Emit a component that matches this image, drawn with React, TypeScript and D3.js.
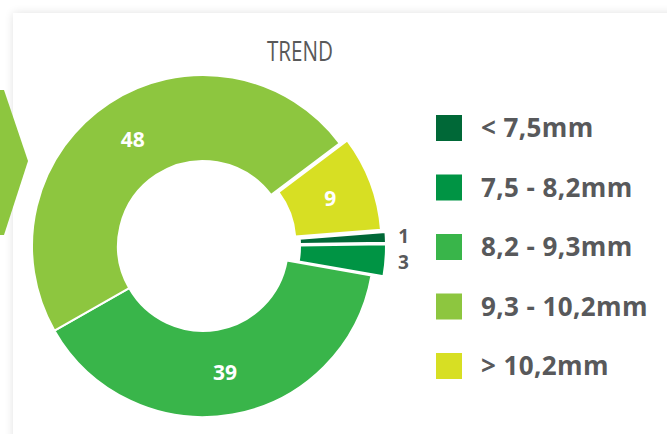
import React from "react";
import * as d3 from "d3";

const categories = ["< 7,5mm", "7,5 - 8,2mm", "8,2 - 9,3mm", "9,3 - 10,2mm", "> 10,2mm"];
const values = [1, 3, 39, 48, 9];
const colors = ["#006837", "#009444", "#39b54a", "#8dc63f", "#d7df23"];
const explode = [12, 12, 0, 0, 8];
const title = "TREND";

const W = 667;
const H = 434;
const cx = 203;
const cy = 246;
const outerR = 171;
const innerR = 85;

export default function App() {
  const pie = d3
    .pie<number>()
    .sort(null)
    .value((d) => d)
    .startAngle((85.5 * Math.PI) / 180)
    .endAngle((85.5 * Math.PI) / 180 + 2 * Math.PI);
  const arcs = pie(values);
  const arc = d3.arc<d3.PieArcDatum<number>>().innerRadius(innerR).outerRadius(outerR);

  const legendY = d3.scalePoint<number>().domain(d3.range(categories.length)).range([128, 366]);

  return (
    <svg width={W} height={H} style={{ position: "absolute", left: 0, top: 0, background: "#ffffff" }}>
      <defs>
        <filter id="shadow" x="-10%" y="-10%" width="130%" height="130%">
          <feGaussianBlur in="SourceAlpha" stdDeviation="5" />
          <feComponentTransfer>
            <feFuncA type="linear" slope="0.12" />
          </feComponentTransfer>
          <feMerge>
            <feMergeNode />
            <feMergeNode in="SourceGraphic" />
          </feMerge>
        </filter>
      </defs>
      <rect x={13} y={13} width={720} height={480} fill="#ffffff" filter="url(#shadow)" />
      <polygon points="0,90 4,90 28,161 4,235 0,235" fill="#8dc63f" />
      <text
        x={300}
        y={61}
        textAnchor="middle"
        fontFamily="'Open Sans', sans-serif"
        fontSize={27}
        fill="#595959"
        textLength={66}
        lengthAdjust="spacingAndGlyphs"
      >
        {title}
      </text>
      <g transform={`translate(${cx},${cy})`}>
        {arcs.map((a, i) => {
          const mid = (a.startAngle + a.endAngle) / 2;
          const ox = Math.sin(mid) * explode[i];
          const oy = -Math.cos(mid) * explode[i];
          return (
            <path
              key={i}
              d={arc(a) || ""}
              transform={`translate(${ox},${oy})`}
              fill={colors[i]}
              stroke="#ffffff"
              strokeWidth={2}
            />
          );
        })}
        {arcs.map((a, i) => {
          const mid = (a.startAngle + a.endAngle) / 2;
          const ox = Math.sin(mid) * explode[i];
          const oy = -Math.cos(mid) * explode[i];
          const inside = a.value >= 5;
          let x: number, y: number;
          if (inside) {
            const c = arc.centroid(a);
            x = c[0] + ox;
            y = c[1] + oy;
          } else {
            const r = outerR + 18;
            x = Math.sin(mid) * r + ox;
            y = -Math.cos(mid) * r + oy;
          }
          return (
            <text
              key={"l" + i}
              x={x}
              y={y}
              dy="0.36em"
              textAnchor="middle"
              fontFamily="'Open Sans', sans-serif"
              fontWeight="bold"
              fontSize={inside ? 21 : 19}
              fill={inside ? "#ffffff" : "#58595b"}
            >
              {a.value}
            </text>
          );
        })}
      </g>
      {categories.map((c, i) => (
        <g key={c} transform={`translate(436,${legendY(i)})`}>
          <rect x={0} y={-13} width={26} height={26} fill={colors[i]} />
          <text
            x={45}
            y={9}
            fontFamily="'Open Sans', sans-serif"
            fontWeight="bold"
            fontSize={26}
            letterSpacing={0.4}
            fill="#58595b"
          >
            {c}
          </text>
        </g>
      ))}
    </svg>
  );
}
